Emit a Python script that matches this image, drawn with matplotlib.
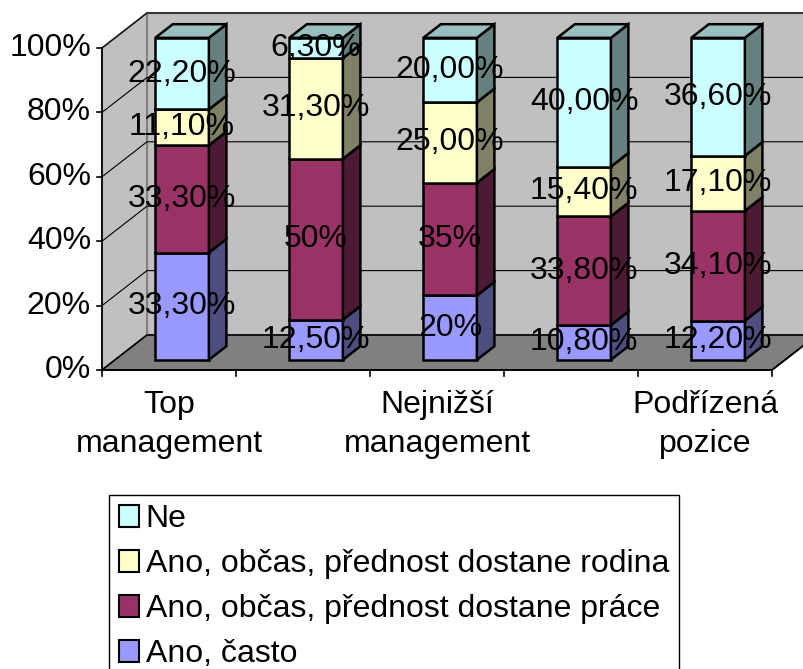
import matplotlib
matplotlib.use('Agg')
import matplotlib.pyplot as plt
from matplotlib.patches import Polygon, Patch

plt.rcParams['font.family'] = ['Liberation Sans', 'DejaVu Sans']

# Data (100% stacked, bottom -> top)
tick_labels = ['Top\nmanagement', '', 'Nejnižší\nmanagement', '', 'Podřízená\npozice']
series_names = ['Ano, často', 'Ano, občas, přednost dostane práce',
                'Ano, občas, přednost dostane rodina', 'Ne']
often = [33.3, 12.5, 20.0, 10.8, 12.2]
work = [33.3, 50.0, 35.0, 33.8, 34.1]
family = [11.1, 31.3, 25.0, 15.4, 17.1]
no = [22.2, 6.3, 20.0, 40.0, 36.6]
often_lbl = ['33,30%', '12,50%', '20%', '10,80%', '12,20%']
work_lbl = ['33,30%', '50%', '35%', '33,80%', '34,10%']
family_lbl = ['11,10%', '31,30%', '25,00%', '15,40%', '17,10%']
no_lbl = ['22,20%', '6,30%', '20,00%', '40,00%', '36,60%']
y_ticks = [0, 20, 40, 60, 80, 100]

face_colors = ['#9999FF', '#993366', '#FFFFCC', '#CCFFFF']
side_colors = ['#4D4D80', '#4D1A33', '#808066', '#668080']
top_colors = ['#7373BF', '#73264D', '#BFBF99', '#99BFBF']

FS = 23

# layout: pixels per category / per percent, depth offset
PXC = 134.0
PXP = 3.22
DX = 45 / PXC
DY = 35 / PXP
D0, D1 = 0.29, 0.68
BW = 0.40
N = len(often)


def P(x, y, d):
    return (x + d * DX, y + d * DY)


fig = plt.figure(figsize=(8.04, 6.69), dpi=100)
ax = fig.add_axes([0, 0, 1, 1])
ax.set_xlim(-102 / PXC, (804 - 102) / PXC)
ax.set_ylim((370 - 669) / PXP, 370 / PXP)
ax.axis('off')

wall = '#C0C0C0'
# back wall, left wall, floor
ax.add_patch(Polygon([P(0, 0, 1), P(N + 1, 0, 1), P(N + 1, 100, 1), P(0, 100, 1)],
                     facecolor=wall, edgecolor='#808080', lw=1.5, zorder=1))
ax.add_patch(Polygon([P(0, 0, 0), P(0, 0, 1), P(0, 100, 1), P(0, 100, 0)],
                     facecolor=wall, edgecolor='#808080', lw=1.5, zorder=1))
ax.add_patch(Polygon([P(0, 0, 0), P(N, 0, 0), P(N, 0, 1), P(0, 0, 1)],
                     facecolor='#808080', edgecolor='black', lw=1.2, zorder=2))
ax.plot(*zip(P(N, 0, 0), P(N, 0, 1.4)), color='black', lw=1.2, zorder=2)

# gridlines
for v in y_ticks[1:]:
    pts = [P(0, v, 0), P(0, v, 1), P(N + 1, v, 1)]
    ax.plot([p[0] for p in pts], [p[1] for p in pts], color='black', lw=0.8, zorder=1.5)

# axes lines and ticks
ax.plot([0, 0], [0, 100], color='black', lw=1.2, zorder=3)
ax.plot([0, N], [0, 0], color='black', lw=1.2, zorder=3)
for v in y_ticks:
    ax.plot([-5 / PXC, 0], [v, v], color='black', lw=1.2, zorder=3)
    ax.text(-11 / PXC, v, f'{v}%', ha='right', va='center', fontsize=FS)
for i in range(N + 1):
    ax.plot([i, i], [0, -6 / PXP], color='black', lw=1.2, zorder=3)
for i, lab in enumerate(tick_labels):
    if lab:
        ax.text(i + 0.5, -20 / PXP, lab, ha='center', va='top', fontsize=FS,
                linespacing=1.38)

# bars
values = [often, work, family, no]
labels = [often_lbl, work_lbl, family_lbl, no_lbl]
for i in range(N):
    total = sum(s[i] for s in values)
    x0 = i + 0.5 - BW / 2
    x1 = i + 0.5 + BW / 2
    bottom = 0.0
    for k, s in enumerate(values):
        h = s[i] / total * 100
        y0, y1 = bottom, bottom + h
        kw = dict(edgecolor='black', lw=1.8, joinstyle='miter', zorder=5)
        ax.add_patch(Polygon([P(x0, y0, D0), P(x1, y0, D0), P(x1, y1, D0), P(x0, y1, D0)],
                             facecolor=face_colors[k], **kw))
        ax.add_patch(Polygon([P(x1, y0, D0), P(x1, y0, D1), P(x1, y1, D1), P(x1, y1, D0)],
                             facecolor=side_colors[k], **kw))
        ax.add_patch(Polygon([P(x0, y1, D0), P(x1, y1, D0), P(x1, y1, D1), P(x0, y1, D1)],
                             facecolor=top_colors[k], **kw))
        cx, cy = P(i + 0.5, (y0 + y1) / 2, D0)
        ax.text(cx, cy, labels[k][i], ha='center', va='center', fontsize=FS, zorder=10)
        bottom = y1

# legend
handles = [Patch(facecolor=face_colors[k], edgecolor='black', lw=1.5) for k in range(4)][::-1]
leg = fig.legend(handles, series_names[::-1], loc='upper left',
                 bbox_to_anchor=(109 / 804, 1 - 494.5 / 669), frameon=True, fancybox=False,
                 edgecolor='black', framealpha=1, fontsize=FS, handlelength=0.65,
                 handleheight=0.65, handletextpad=0.2, labelspacing=0.47,
                 borderpad=0.3, borderaxespad=0)
leg.get_frame().set_linewidth(1.0)

fig.savefig('out.png', dpi=100)
